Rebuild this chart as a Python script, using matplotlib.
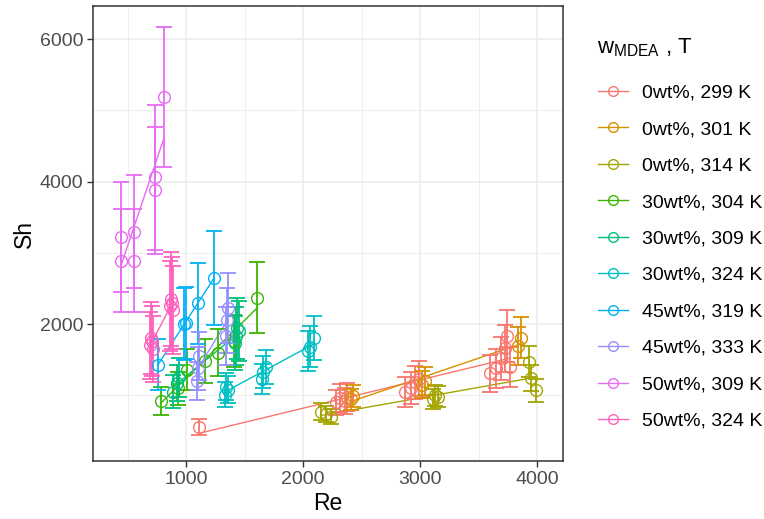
import numpy as np
import matplotlib
matplotlib.use("Agg")
import matplotlib.pyplot as plt
from matplotlib.lines import Line2D

plt.rcParams['font.family'] = ['Liberation Sans', 'DejaVu Sans']
plt.rcParams['mathtext.fontset'] = 'custom'
plt.rcParams['mathtext.rm'] = 'Liberation Sans'
plt.rcParams['mathtext.it'] = 'Liberation Sans'

# ---- data ----
labels = ["0wt%, 299 K", "0wt%, 301 K", "0wt%, 314 K", "30wt%, 304 K", "30wt%, 309 K",
          "30wt%, 324 K", "45wt%, 319 K", "45wt%, 333 K", "50wt%, 309 K", "50wt%, 324 K"]
colors = ["#F8766D", "#D89000", "#A3A500", "#39B600", "#00BF7D",
          "#00BFC4", "#00B0F6", "#9590FF", "#E76BF3", "#FF62BC"]

re_0_299 = [1110, 2280, 2320, 2360, 2380, 2870, 2920, 2960, 2990, 3600, 3650, 3690, 3730, 3740, 3770]
sh_0_299 = [560, 900, 960, 920, 980, 1050, 1100, 1180, 1230, 1310, 1380, 1520, 1660, 1830, 1400]
re_0_301 = [2410, 2430, 3020, 3040, 3840, 3860]
sh_0_301 = [940, 990, 1150, 1200, 1690, 1810]
re_0_314 = [2150, 2200, 2240, 3110, 3130, 3150, 3930, 3950, 3990]
sh_0_314 = [770, 740, 700, 950, 1000, 980, 1470, 1240, 1070]
re_30_304 = [790, 930, 1010, 1160, 1270, 1410, 1610]
sh_30_304 = [920, 1100, 1360, 1480, 1600, 1760, 2370]
re_30_309 = [890, 920, 940, 1420, 1430, 1440, 1450]
sh_30_309 = [1050, 1170, 1250, 1730, 1830, 1940, 1900]
re_30_324 = [1330, 1340, 1360, 1650, 1660, 1680, 2040, 2060, 2090]
sh_30_324 = [1010, 1120, 1080, 1230, 1330, 1400, 1620, 1680, 1800]
re_45_319 = [760, 980, 1000, 1100, 1240]
sh_45_319 = [1430, 2000, 2020, 2290, 2650]
re_45_333 = [1090, 1100, 1110, 1340, 1350, 1360]
sh_45_333 = [1200, 1380, 1550, 1830, 2050, 2230]
re_50_309 = [443, 443, 554, 554, 734, 734, 811]
sh_50_309 = [3220, 2890, 3300, 2890, 4060, 3880, 5190]
re_50_324 = [690, 700, 710, 720, 860, 870, 880, 890]
sh_50_324 = [1700, 1800, 1760, 1650, 2250, 2350, 2300, 2200]

# relative uncertainty of Sh (per series, or per point)
err_frac = [0.2, 0.16, 0.15, 0.21, 0.22, 0.17, 0.25, 0.22,
            [0.24, 0.25, 0.24, 0.25, 0.25, 0.23, 0.19], 0.28]

re_all = [re_0_299, re_0_301, re_0_314, re_30_304, re_30_309,
          re_30_324, re_45_319, re_45_333, re_50_309, re_50_324]
sh_all = [sh_0_299, sh_0_301, sh_0_314, sh_30_304, sh_30_309,
          sh_30_324, sh_45_319, sh_45_333, sh_50_309, sh_50_324]

x_ticks = [1000, 2000, 3000, 4000]
y_ticks = [2000, 4000, 6000]

# ---- figure ----
W, H = 764, 519
fig = plt.figure(figsize=(W / 100, H / 100), dpi=100)
ax = fig.add_axes([93 / W, (H - 461) / H, (563 - 93) / W, (461 - 6) / H])

for re, sh, ef, col in zip(re_all, sh_all, err_frac, colors):
    re = np.asarray(re, float)
    sh = np.asarray(sh, float)
    ef = np.asarray(ef, float)
    ax.errorbar(re, sh, yerr=sh * ef, fmt='none', ecolor=col, elinewidth=1.3,
                capsize=5.5, capthick=1.3, zorder=3)
    ax.plot(re, sh, 'o', mfc='none', mec=col, mew=1.0, ms=8.5, zorder=4)
    k, b = np.polyfit(re, sh, 1)
    xs = np.array([re.min(), re.max()])
    ax.plot(xs, k * xs + b, '-', color=col, lw=1.0, zorder=2)

ax.set_xlim(205, 4222)
ax.set_ylim(76, 6468)
ax.set_xticks(x_ticks)
ax.set_yticks(y_ticks)
ax.set_xticks([500, 1500, 2500, 3500], minor=True)
ax.set_yticks([1000, 3000, 5000], minor=True)
ax.grid(True, which='major', color='#EBEBEB', lw=1.1, zorder=0)
ax.grid(True, which='minor', color='#EBEBEB', lw=0.6, zorder=0)
ax.set_axisbelow(True)
ax.tick_params(which='major', length=4, width=1.0, color='#333333',
               labelsize=14, labelcolor='#4D4D4D', pad=3)
ax.tick_params(which='minor', length=0)
for s in ax.spines.values():
    s.set_color('#333333')
    s.set_linewidth(1.1)

ax.set_xlabel('Re', fontsize=16.5, color='black', labelpad=3)
ax.set_ylabel('Sh', fontsize=16.5, color='black', labelpad=3)

# legend title
fig.text(597 / W, 1 - 48 / H, r'w$_{\mathrm{MDEA}}$ , T', fontsize=16,
         ha='left', va='center', color='black')

handles = [Line2D([0], [0], color=c, lw=1.0, marker='o', mfc='none', mec=c, ms=7, mew=1.0)
           for c in colors]
leg = fig.legend(handles, labels, loc='upper left', bbox_to_anchor=(598 / W, 1 - 84 / H),
                 frameon=False, fontsize=14, handlelength=1.55, handletextpad=0.72,
                 labelspacing=0.97, borderaxespad=0, borderpad=0)

fig.savefig('out.png', dpi=100)
